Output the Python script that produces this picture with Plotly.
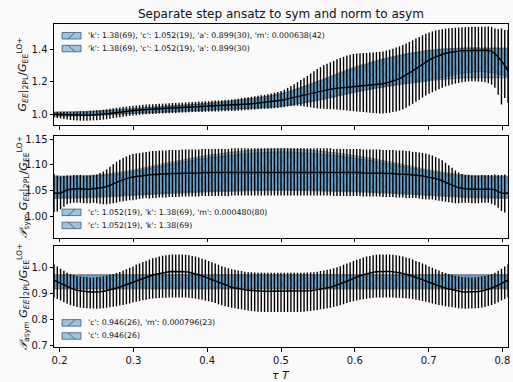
import plotly.graph_objects as go

# ---------------- data ----------------
# tau*T grid (139 equally spaced time slices)
tau = [round(0.1925 + 0.004457 * i, 5) for i in range(139)]

# Panel 1: G_EE|2PL / G_EE^LO+
c1 = [1.000,0.999,0.998,0.996,0.995,0.994,0.993,0.993,0.993,0.993,
      0.993,0.994,0.995,0.996,0.997,0.999,1.001,1.004,1.007,1.010,
      1.012,1.015,1.017,1.020,1.022,1.024,1.026,1.028,1.030,1.031,
      1.032,1.033,1.034,1.035,1.036,1.037,1.038,1.039,1.040,1.041,
      1.042,1.043,1.044,1.045,1.046,1.046,1.047,1.048,1.049,1.050,
      1.050,1.051,1.052,1.053,1.054,1.055,1.057,1.059,1.061,1.063,
      1.065,1.067,1.069,1.071,1.073,1.075,1.078,1.080,1.083,1.086,
      1.090,1.095,1.100,1.105,1.110,1.115,1.120,1.125,1.130,1.135,
      1.140,1.144,1.148,1.152,1.155,1.158,1.161,1.163,1.165,1.167,
      1.168,1.170,1.171,1.172,1.173,1.174,1.176,1.178,1.181,1.184,
      1.188,1.193,1.198,1.205,1.212,1.220,1.230,1.242,1.255,1.268,
      1.282,1.296,1.310,1.323,1.335,1.346,1.356,1.364,1.371,1.377,
      1.381,1.385,1.388,1.390,1.392,1.393,1.394,1.395,1.395,1.395,
      1.395,1.395,1.394,1.390,1.375,1.355,1.330,1.300,1.270]
e1p = [0.015,0.016,0.018,0.019,0.020,0.021,0.022,0.023,0.024,0.025,
       0.026,0.027,0.027,0.028,0.028,0.029,0.029,0.030,0.030,0.030,
       0.030,0.030,0.030,0.030,0.030,0.030,0.030,0.030,0.030,0.030,
       0.030,0.030,0.030,0.030,0.030,0.031,0.031,0.031,0.031,0.031,
       0.031,0.031,0.032,0.032,0.032,0.033,0.033,0.033,0.034,0.034,
       0.035,0.035,0.036,0.036,0.037,0.038,0.039,0.040,0.041,0.042,
       0.043,0.044,0.045,0.046,0.047,0.048,0.050,0.052,0.054,0.057,
       0.062,0.068,0.074,0.080,0.088,0.096,0.104,0.112,0.122,0.131,
       0.140,0.147,0.154,0.160,0.166,0.172,0.178,0.184,0.190,0.196,
       0.200,0.203,0.205,0.205,0.205,0.205,0.205,0.204,0.203,0.202,
       0.200,0.200,0.200,0.200,0.200,0.200,0.198,0.195,0.192,0.189,
       0.186,0.182,0.178,0.174,0.170,0.166,0.162,0.158,0.155,0.152,
       0.150,0.148,0.147,0.146,0.145,0.145,0.145,0.145,0.145,0.145,
       0.145,0.146,0.148,0.150,0.155,0.170,0.200,0.220,0.250]
e1m = [0.020,0.022,0.024,0.026,0.028,0.030,0.031,0.032,0.033,0.033,
       0.033,0.033,0.033,0.033,0.033,0.032,0.032,0.032,0.031,0.031,
       0.031,0.031,0.030,0.030,0.030,0.030,0.030,0.030,0.030,0.030,
       0.030,0.030,0.030,0.030,0.030,0.031,0.031,0.031,0.031,0.031,
       0.031,0.031,0.031,0.031,0.032,0.032,0.032,0.032,0.033,0.033,
       0.033,0.033,0.034,0.034,0.034,0.035,0.035,0.036,0.036,0.037,
       0.037,0.038,0.038,0.039,0.040,0.041,0.042,0.043,0.044,0.045,
       0.046,0.048,0.050,0.053,0.058,0.065,0.072,0.080,0.088,0.097,
       0.105,0.110,0.115,0.120,0.124,0.128,0.132,0.136,0.140,0.144,
       0.148,0.151,0.154,0.157,0.160,0.163,0.167,0.171,0.175,0.179,
       0.183,0.186,0.189,0.192,0.195,0.198,0.200,0.202,0.203,0.204,
       0.205,0.206,0.207,0.208,0.209,0.210,0.210,0.209,0.207,0.205,
       0.203,0.201,0.199,0.197,0.195,0.193,0.192,0.192,0.192,0.193,
       0.195,0.198,0.202,0.207,0.212,0.235,0.270,0.200,0.200]

# Panel 2: P_sym projection
c2 = [1.045,1.044,1.045,1.048,1.051,1.052,1.053,1.053,1.053,1.052,
      1.052,1.052,1.053,1.053,1.054,1.055,1.057,1.060,1.063,1.066,
      1.069,1.071,1.073,1.075,1.076,1.077,1.078,1.079,1.080,1.080,
      1.081,1.081,1.082,1.082,1.082,1.083,1.083,1.083,1.083,1.084,
      1.084,1.084,1.084,1.084,1.084,1.085,1.085,1.085,1.085,1.085,
      1.085,1.085,1.085,1.085,1.086,1.086,1.086,1.086,1.086,1.086,
      1.086,1.086,1.086,1.086,1.086,1.086,1.086,1.086,1.086,1.086,
      1.086,1.086,1.086,1.086,1.086,1.086,1.086,1.086,1.086,1.086,
      1.086,1.086,1.086,1.086,1.086,1.085,1.085,1.085,1.085,1.085,
      1.085,1.085,1.085,1.085,1.084,1.084,1.084,1.084,1.084,1.084,
      1.083,1.083,1.083,1.083,1.082,1.082,1.082,1.081,1.081,1.080,
      1.080,1.079,1.078,1.077,1.076,1.075,1.073,1.071,1.069,1.066,
      1.063,1.060,1.057,1.055,1.054,1.053,1.053,1.052,1.052,1.052,
      1.053,1.053,1.053,1.052,1.051,1.048,1.045,1.044,1.045]
e2 = [0.037,0.035,0.032,0.030,0.028,0.027,0.027,0.027,0.027,0.027,
      0.027,0.027,0.027,0.028,0.030,0.032,0.034,0.036,0.038,0.040,
      0.041,0.042,0.043,0.044,0.045,0.045,0.045,0.045,0.045,0.046,
      0.046,0.046,0.046,0.046,0.046,0.046,0.046,0.046,0.046,0.046,
      0.046,0.046,0.046,0.046,0.046,0.046,0.046,0.046,0.046,0.046,
      0.046,0.046,0.046,0.046,0.046,0.046,0.046,0.046,0.046,0.046,
      0.046,0.046,0.046,0.046,0.046,0.046,0.046,0.046,0.046,0.046,
      0.046,0.046,0.046,0.046,0.046,0.046,0.046,0.046,0.046,0.046,
      0.046,0.046,0.046,0.046,0.046,0.046,0.046,0.046,0.046,0.046,
      0.046,0.046,0.046,0.046,0.046,0.046,0.046,0.046,0.046,0.046,
      0.046,0.046,0.046,0.046,0.046,0.046,0.046,0.046,0.046,0.045,
      0.045,0.045,0.045,0.045,0.044,0.043,0.042,0.041,0.040,0.038,
      0.036,0.034,0.032,0.030,0.028,0.027,0.027,0.027,0.027,0.027,
      0.027,0.027,0.027,0.028,0.030,0.032,0.035,0.037]

# Panel 3: P_asym projection
c3 = [0.952,0.946,0.939,0.932,0.926,0.921,0.917,0.913,0.911,0.909,
      0.908,0.907,0.907,0.907,0.908,0.910,0.912,0.915,0.918,0.921,
      0.925,0.929,0.934,0.939,0.944,0.949,0.954,0.959,0.963,0.968,
      0.972,0.975,0.978,0.981,0.983,0.985,0.986,0.986,0.986,0.986,
      0.985,0.983,0.980,0.977,0.973,0.969,0.964,0.959,0.954,0.948,
      0.943,0.938,0.933,0.929,0.925,0.922,0.919,0.917,0.915,0.913,
      0.912,0.911,0.910,0.910,0.910,0.910,0.910,0.910,0.910,0.910,
      0.910,0.910,0.910,0.910,0.910,0.910,0.910,0.911,0.912,0.913,
      0.915,0.917,0.919,0.922,0.925,0.929,0.933,0.938,0.943,0.948,
      0.954,0.959,0.964,0.969,0.973,0.977,0.980,0.983,0.985,0.986,
      0.986,0.986,0.986,0.985,0.983,0.981,0.978,0.975,0.972,0.968,
      0.963,0.959,0.954,0.949,0.944,0.939,0.934,0.929,0.925,0.921,
      0.918,0.915,0.912,0.910,0.908,0.907,0.907,0.907,0.908,0.909,
      0.911,0.913,0.917,0.921,0.926,0.932,0.939,0.946,0.952]
e3p = [0.061,0.059,0.057,0.056,0.055,0.055,0.055,0.055,0.055,0.055,
       0.055,0.055,0.055,0.056,0.056,0.057,0.057,0.058,0.058,0.059,
       0.059,0.060,0.060,0.061,0.061,0.062,0.062,0.063,0.063,0.064,
       0.064,0.064,0.065,0.065,0.065,0.065,0.065,0.065,0.065,0.065,
       0.065,0.065,0.065,0.066,0.066,0.066,0.067,0.067,0.067,0.068,
       0.068,0.068,0.069,0.069,0.069,0.070,0.070,0.070,0.070,0.070,
       0.071,0.071,0.071,0.071,0.071,0.071,0.071,0.071,0.071,0.071,
       0.071,0.071,0.071,0.071,0.071,0.071,0.071,0.071,0.071,0.070,
       0.070,0.070,0.070,0.070,0.069,0.069,0.069,0.068,0.068,0.068,
       0.067,0.067,0.067,0.066,0.066,0.066,0.065,0.065,0.065,0.065,
       0.065,0.065,0.065,0.065,0.065,0.065,0.065,0.064,0.064,0.064,
       0.063,0.063,0.062,0.062,0.061,0.061,0.060,0.060,0.059,0.059,
       0.058,0.058,0.057,0.057,0.056,0.056,0.055,0.055,0.055,0.055,
       0.055,0.055,0.055,0.055,0.055,0.056,0.057,0.059,0.061]
e3m = [0.066,0.066,0.065,0.065,0.064,0.064,0.064,0.064,0.064,0.064,
       0.064,0.064,0.064,0.065,0.065,0.066,0.066,0.067,0.068,0.069,
       0.070,0.072,0.074,0.076,0.078,0.080,0.082,0.084,0.086,0.088,
       0.090,0.092,0.094,0.096,0.098,0.099,0.100,0.100,0.100,0.100,
       0.099,0.098,0.097,0.096,0.094,0.092,0.090,0.088,0.086,0.084,
       0.083,0.082,0.081,0.080,0.079,0.078,0.078,0.077,0.077,0.077,
       0.078,0.078,0.079,0.079,0.080,0.080,0.080,0.080,0.080,0.080,
       0.080,0.080,0.080,0.080,0.080,0.079,0.079,0.078,0.078,0.077,
       0.077,0.077,0.078,0.078,0.079,0.080,0.081,0.082,0.083,0.084,
       0.086,0.088,0.090,0.092,0.094,0.096,0.097,0.098,0.099,0.100,
       0.100,0.100,0.100,0.099,0.098,0.096,0.094,0.092,0.090,0.088,
       0.086,0.084,0.082,0.080,0.078,0.076,0.074,0.072,0.070,0.069,
       0.068,0.067,0.066,0.066,0.065,0.065,0.064,0.064,0.064,0.064,
       0.064,0.064,0.064,0.064,0.064,0.065,0.065,0.066,0.066]

# Fit bands (sparse points of the smooth fit curves)
bx1 = [0.1925,0.225,0.25,0.3,0.35,0.4,0.45,0.5,0.55,0.6,0.65,0.7,0.725,0.75,0.775,0.8075]
b1a_lo = [0.988,0.990,0.993,1.004,1.014,1.024,1.034,1.048,1.085,1.135,1.175,1.205,1.218,1.225,1.225,1.225]
b1a_hi = [1.013,1.016,1.020,1.036,1.052,1.068,1.092,1.128,1.205,1.292,1.355,1.395,1.405,1.410,1.410,1.410]
b1b_lo = [0.990,0.992,0.995,1.006,1.016,1.026,1.036,1.050,1.088,1.138,1.180,1.212,1.235,1.255,1.262,1.235]
b1b_hi = [1.011,1.014,1.018,1.034,1.050,1.066,1.090,1.126,1.200,1.285,1.350,1.392,1.402,1.408,1.408,1.405]

bx2 = [0.1925,0.25,0.3,0.35,0.4,0.45,0.5,0.55,0.6,0.65,0.7,0.75,0.8075]
b2a_lo = [1.034,1.036,1.040,1.044,1.047,1.049,1.050,1.049,1.047,1.044,1.040,1.036,1.034]
b2a_hi = [1.078,1.080,1.090,1.105,1.118,1.127,1.131,1.127,1.118,1.105,1.090,1.080,1.078]
b2b_lo = [1.036,1.038,1.042,1.046,1.049,1.051,1.052,1.051,1.049,1.046,1.042,1.038,1.036]
b2b_hi = [1.076,1.078,1.087,1.101,1.113,1.121,1.125,1.121,1.113,1.101,1.087,1.078,1.076]

bx3 = [0.1925,0.8075]
b3a_lo = [0.918,0.918]
b3a_hi = [0.974,0.974]
b3b_lo = [0.921,0.921]
b3b_hi = [0.971,0.971]

legend1 = ["'k': 1.38(69), 'c': 1.052(19), 'a': 0.899(30), 'm': 0.000638(42)",
           "'k': 1.38(69), 'c': 1.052(19), 'a': 0.899(30)"]
legend2 = ["'c': 1.052(19), 'k': 1.38(69), 'm': 0.000480(80)",
           "'c': 1.052(19), 'k': 1.38(69)"]
legend3 = ["'c': 0.946(26), 'm': 0.000796(23)",
           "'c': 0.946(26)"]

title = "Separate step ansatz to sym and norm to asym"
ylab1 = "<i>G</i><sub><i>EE</i></sub>|<sub>2PL</sub>/<i>G</i><sub>EE</sub><sup>LO+</sup>"
ylab2 = "<i>𝒫</i><sub>sym</sub> <i>G</i><sub><i>EE</i></sub>|<sub>2PL</sub>/<i>G</i><sub>EE</sub><sup>LO+</sup>"
ylab3 = "<i>𝒫</i><sub>asym</sub> <i>G</i><sub><i>EE</i></sub>|<sub>2PL</sub>/<i>G</i><sub>EE</sub><sup>LO+</sup>"
xlab = "<i>τ T</i>"

# ---------------- figure ----------------
W, H = 513, 382
L, R = 54, 5
FONT = "DejaVu Sans"
BLUE = "rgba(31,119,180,0.42)"
HATCH = "rgba(40,55,80,0.38)"
EDGE = "rgba(90,90,90,0.5)"

fig = go.Figure()

panels = [
    (1, bx1, (b1a_lo, b1a_hi), (b1b_lo, b1b_hi), c1, e1p, e1m, 'spline'),
    (2, bx2, (b2a_lo, b2a_hi), (b2b_lo, b2b_hi), c2, e2, e2, 'spline'),
    (3, bx3, (b3a_lo, b3a_hi), (b3b_lo, b3b_hi), c3, e3p, e3m, 'linear'),
]

for k, bx, ba, bb, c, ep, em, shp in panels:
    xa = "x" if k == 1 else f"x{k}"
    ya = "y" if k == 1 else f"y{k}"
    for (lo, hi), pat in ((ba, "/"), (bb, "\\")):
        fig.add_trace(go.Scatter(x=bx, y=lo, mode="lines", xaxis=xa, yaxis=ya,
                                 line=dict(color=EDGE, width=1, shape=shp),
                                 showlegend=False, hoverinfo="skip"))
        fig.add_trace(go.Scatter(x=bx, y=hi, mode="lines", xaxis=xa, yaxis=ya,
                                 line=dict(color=EDGE, width=1, shape=shp),
                                 fill="tonexty", fillcolor=BLUE,
                                 fillpattern=dict(shape=pat, bgcolor=BLUE, fgcolor=HATCH,
                                                  size=9, solidity=0.12),
                                 showlegend=False, hoverinfo="skip"))
    fig.add_trace(go.Scatter(x=tau, y=c, mode="lines", xaxis=xa, yaxis=ya,
                             line=dict(color="black", width=1.5),
                             error_y=dict(type="data", symmetric=False, array=ep, arrayminus=em,
                                          color="black", thickness=1.4, width=0),
                             showlegend=False, hoverinfo="skip"))

# domains in pixels (top, bottom)
pix = {1: (22.3, 125.0), 2: (136.0, 239.3), 3: (248.3, 351.0)}
yr = {1: [0.933, 1.558], 2: [0.958, 1.1564], 3: [0.6935, 1.082]}
yt = {1: ([1.0, 1.2, 1.4], ["1.0", "1.2", "1.4"]),
      2: ([1.00, 1.05, 1.10, 1.15], ["1.00", "1.05", "1.10", "1.15"]),
      3: ([0.7, 0.8, 0.9, 1.0], ["0.7", "0.8", "0.9", "1.0"])}

axcommon = dict(showline=True, linecolor="black", linewidth=1, mirror=True,
                ticks="outside", ticklen=3.5, tickwidth=0.8, tickcolor="black",
                showgrid=False, zeroline=False,
                tickfont=dict(family=FONT, size=10, color="#111"))

layout = dict(width=W, height=H, autosize=False,
              margin=dict(l=L, r=R, t=0, b=0, pad=0),
              paper_bgcolor="#fafafa", plot_bgcolor="#fafafa",
              showlegend=False)
for k in (1, 2, 3):
    t, b = pix[k]
    sfx = "" if k == 1 else str(k)
    layout["xaxis" + sfx] = dict(axcommon, range=[0.1925, 0.8075], anchor="y" + sfx,
                                 tickvals=[0.2, 0.3, 0.4, 0.5, 0.6, 0.7, 0.8],
                                 ticktext=["0.2", "0.3", "0.4", "0.5", "0.6", "0.7", "0.8"],
                                 showticklabels=(k == 3))
    layout["yaxis" + sfx] = dict(axcommon, range=yr[k], anchor="x" + sfx,
                                 domain=[1 - b / H, 1 - t / H],
                                 tickvals=yt[k][0], ticktext=yt[k][1])
fig.update_layout(**layout)

def px_x(p):
    return (p - L) / (W - L - R)

def px_y(p):
    return 1 - p / H

ann = []
ann.append(dict(text=title, x=0.5, y=px_y(12.5), xref="paper", yref="paper",
                showarrow=False, xanchor="center", yanchor="middle",
                font=dict(family=FONT, size=12, color="#111")))
for k, lab in ((1, ylab1), (2, ylab2), (3, ylab3)):
    t, b = pix[k]
    ann.append(dict(text=lab, x=px_x(23), y=px_y((t + b) / 2), xref="paper", yref="paper",
                    showarrow=False, textangle=-90, xanchor="center", yanchor="middle",
                    font=dict(family=FONT, size=11, color="#111")))
ann.append(dict(text=xlab, x=0.5, y=px_y(371), xref="paper", yref="paper",
                showarrow=False, xanchor="center", yanchor="top",
                font=dict(family=FONT, size=11, color="#111")))

shapes = []
rows = [(legend1, (34.3, 47.3)), (legend2, (213.7, 227.0)), (legend3, (326.0, 339.3))]
for texts, ys in rows:
    for txt, yc, pat in zip(texts, ys, ("/", "\\")):
        x0, x1 = 62, 81
        y0, y1 = yc - 3.3, yc + 3.3
        shapes.append(dict(type="rect", xref="paper", yref="paper",
                           x0=px_x(x0), x1=px_x(x1), y0=px_y(y1), y1=px_y(y0),
                           fillcolor=BLUE, line=dict(color="rgba(40,80,120,0.9)", width=0.8)))
        if pat == "/":
            shapes.append(dict(type="line", xref="paper", yref="paper",
                               x0=px_x(68), y0=px_y(y1), x1=px_x(75), y1=px_y(y0),
                               line=dict(color="rgba(30,45,70,0.8)", width=0.8)))
        else:
            shapes.append(dict(type="line", xref="paper", yref="paper",
                               x0=px_x(68), y0=px_y(y0), x1=px_x(75), y1=px_y(y1),
                               line=dict(color="rgba(30,45,70,0.8)", width=0.8)))
        ann.append(dict(text=txt, x=px_x(85.5), y=px_y(yc), xref="paper", yref="paper",
                        showarrow=False, xanchor="left", yanchor="middle",
                        font=dict(family=FONT, size=7.8, color="#111")))

fig.update_layout(annotations=ann, shapes=shapes)
fig.write_html("out.html")
